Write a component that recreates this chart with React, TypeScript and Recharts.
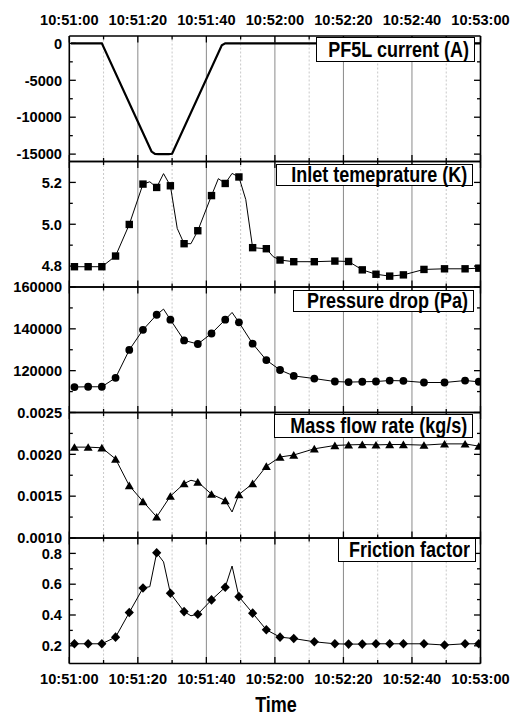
import React from 'react';
import { ComposedChart, Line, Scatter, XAxis, YAxis, ReferenceLine } from 'recharts';

// ---------- data ----------
const xTicks = [0, 10, 20, 30, 40, 50, 60, 70, 80, 90, 100, 110, 120];
const xMajorTicks = [0, 20, 40, 60, 80, 100, 120];
const timeLabels = ['10:51:00', '10:51:20', '10:51:40', '10:52:00', '10:52:20', '10:52:40', '10:53:00'];
const xMinorGrid = [10, 30, 50, 70, 90, 110];
const xMajorGrid = [20, 40, 60, 80, 100];

const markerTimes = [1.5, 5.5, 9.5, 13.5, 17.5, 21.5, 25.5, 29.5, 33.5, 37.5, 41.5, 45.5, 49.5, 53.5, 57.5, 61.5, 65.5, 71.5, 77.5, 81.5, 85.5, 89.5, 93.5, 97.5, 103.5, 109.5, 115.5, 119.5];

const currentTime = [0.5, 9.5, 24, 25, 26, 29, 30, 44.5, 45.5, 120];
const currentValue = [0, 0, -14650, -14980, -15000, -15000, -14950, -250, 0, 0];

const inletTime = [1.5, 5.5, 9.5, 13.5, 17.5, 21.5, 23.5, 25.5, 27.5, 29.5, 31.5, 33.5, 35.5, 37.5, 41.5, 43.5, 45.5, 47.5, 49.5, 51.5, 53.5, 57.5, 59.5, 61.5, 65.5, 71.5, 77.5, 81.5, 85.5, 89.5, 93.5, 97.5, 103.5, 109.5, 115.5, 119.5];
const inletValue = [4.797, 4.797, 4.797, 4.848, 4.999, 5.192, 5.203, 5.176, 5.242, 5.184, 4.98, 4.907, 4.907, 4.969, 5.137, 5.218, 5.195, 5.243, 5.226, 5.118, 4.888, 4.883, 4.845, 4.829, 4.821, 4.821, 4.824, 4.822, 4.782, 4.761, 4.752, 4.758, 4.784, 4.787, 4.787, 4.79];

const pressureTime = [1.5, 5.5, 9.5, 13.5, 17.5, 21.5, 25.5, 27.5, 29.5, 33.5, 37.5, 41.5, 45.5, 47.5, 49.5, 53.5, 57.5, 61.5, 65.5, 71.5, 77.5, 81.5, 85.5, 89.5, 93.5, 97.5, 103.5, 109.5, 115.5, 119.5];
const pressureValue = [112170, 112300, 112300, 116560, 129900, 139530, 146740, 149430, 144390, 134480, 132740, 137780, 144390, 147830, 143110, 132920, 125050, 120330, 117500, 116230, 114810, 114530, 114690, 114810, 115280, 115130, 114340, 114340, 115280, 114690];

const flowTime = [1.5, 5.5, 9.5, 13.5, 17.5, 21.5, 25.5, 29.5, 33.5, 35.5, 37.5, 41.5, 45.5, 47.5, 49.5, 53.5, 57.5, 61.5, 65.5, 71.5, 77.5, 81.5, 85.5, 89.5, 93.5, 97.5, 103.5, 109.5, 115.5, 119.5];
const flowValue = [0.002086, 0.002086, 0.002078, 0.001945, 0.001626, 0.001437, 0.001252, 0.0015, 0.00165, 0.00169, 0.00167, 0.001524, 0.001449, 0.001311, 0.00152, 0.00165, 0.001858, 0.001968, 0.001992, 0.002066, 0.002106, 0.002113, 0.002117, 0.002113, 0.002117, 0.002117, 0.00211, 0.002125, 0.002125, 0.002098];

const frictionTime = [1.5, 5.5, 9.5, 13.5, 17.5, 21.5, 23.5, 25.5, 27.5, 29.5, 33.5, 35.5, 37.5, 41.5, 45.5, 47.5, 49.5, 53.5, 57.5, 61.5, 65.5, 71.5, 77.5, 81.5, 85.5, 89.5, 93.5, 97.5, 103.5, 109.5, 115.5, 119.5];
const frictionValue = [0.213, 0.213, 0.213, 0.256, 0.416, 0.575, 0.584, 0.804, 0.745, 0.541, 0.422, 0.395, 0.405, 0.498, 0.58, 0.718, 0.519, 0.412, 0.304, 0.256, 0.247, 0.226, 0.213, 0.211, 0.211, 0.213, 0.213, 0.213, 0.213, 0.205, 0.213, 0.213];

const currentTicks = [-15000, -12500, -10000, -7500, -5000, -2500, 0];
const currentMajor = [-15000, -10000, -5000, 0];
const inletTicks = [4.8, 4.9, 5.0, 5.1, 5.2];
const inletMajor = [4.8, 5.0, 5.2];
const pressureTicks = [110000, 120000, 130000, 140000, 150000, 160000];
const pressureMajor = [120000, 140000, 160000];
const flowTicks = [0.001, 0.00125, 0.0015, 0.00175, 0.002, 0.00225, 0.0025];
const flowMajor = [0.001, 0.0015, 0.002, 0.0025];
const frictionTicks = [0.2, 0.3, 0.4, 0.5, 0.6, 0.7, 0.8];
const frictionMajor = [0.2, 0.4, 0.6, 0.8];

// ---------- layout ----------
const W = 521;
const H = 718;
const PLOT_LEFT = 69.3;
const PLOT_RIGHT = 480.5;
const PANEL_TOP = 36;
const PANEL_H = 125.5;
const AX = 1; // axis band size
const FONT = '"Liberation Sans", Arial, Helvetica, sans-serif';
const TICK_FS = 14.6;

const isIn = (arr: number[], v: number) => arr.some((m) => Math.abs(m - v) < 1e-9);

type Side = 'left' | 'right' | 'top' | 'bottom';

const makeTick = (side: Side, major: number[], label: ((v: number) => string) | null) => (props: any) => {
  const { x, y, payload } = props;
  const v = payload.value;
  const isMajor = isIn(major, v);
  const len = isMajor ? 6.5 : 3.5;
  let line: any;
  let text: any = null;
  if (side === 'left') {
    line = <line x1={x} y1={y} x2={x + len} y2={y} stroke="#000" strokeWidth={1.3} />;
    if (label && isMajor)
      text = (
        <text x={x - 7.3} y={y} dy="0.36em" textAnchor="end" fontFamily={FONT} fontWeight="bold" fontSize={TICK_FS} fill="#000">
          {label(v)}
        </text>
      );
  } else if (side === 'right') {
    line = <line x1={x} y1={y} x2={x - len} y2={y} stroke="#000" strokeWidth={1.3} />;
  } else if (side === 'top') {
    line = <line x1={x} y1={y} x2={x} y2={y + len} stroke="#000" strokeWidth={1.3} />;
    if (label && isMajor)
      text = (
        <text x={x} y={y - 11} textAnchor="middle" fontFamily={FONT} fontWeight="bold" fontSize={TICK_FS} fill="#000">
          {label(v)}
        </text>
      );
  } else {
    line = <line x1={x} y1={y} x2={x} y2={y - len} stroke="#000" strokeWidth={1.3} />;
    if (label && isMajor)
      text = (
        <text x={x} y={y + 20} textAnchor="middle" fontFamily={FONT} fontWeight="bold" fontSize={TICK_FS} fill="#000">
          {label(v)}
        </text>
      );
  }
  return (
    <g>
      {line}
      {text}
    </g>
  );
};

const timeLabel = (v: number) => timeLabels[Math.round(v / 20)] ?? '';

const Square = (p: any) => <rect x={p.cx - 3.7} y={p.cy - 3.7} width={7.4} height={7.4} fill="#000" />;
const Circle = (p: any) => <circle cx={p.cx} cy={p.cy} r={3.9} fill="#000" />;
const Triangle = (p: any) => (
  <path d={`M${p.cx},${p.cy - 4} L${p.cx + 4.5},${p.cy + 3.7} L${p.cx - 4.5},${p.cy + 3.7} Z`} fill="#000" />
);
const Diamond = (p: any) => (
  <path d={`M${p.cx},${p.cy - 4.8} L${p.cx + 4.6},${p.cy} L${p.cx},${p.cy + 4.8} L${p.cx - 4.6},${p.cy} Z`} fill="#000" />
);

type PanelProps = {
  index: number;
  time: number[];
  values: number[];
  domain: [number, number];
  ticks: number[];
  major: number[];
  fmt: (v: number) => string;
  marker: ((p: any) => any) | null;
  lineWidth: number;
  topLabels?: boolean;
  bottomLabels?: boolean;
};

function Panel(p: PanelProps) {
  const rows = p.time.map((t, i) => ({ t, v: p.values[i] }));
  const marks = rows.filter((r) => isIn(markerTimes, r.t));
  const top = PANEL_TOP + p.index * PANEL_H;
  const bottom = H - (top + PANEL_H);
  const axisLine = { stroke: '#000', strokeWidth: 1.6 };
  return (
    <div style={{ position: 'absolute', left: 0, top: 0 }}>
      <ComposedChart
        width={W}
        height={H}
        margin={{ top: top - AX, bottom: bottom - AX, left: PLOT_LEFT - AX, right: W - PLOT_RIGHT - AX }}
      >
        <XAxis
          xAxisId="b"
          type="number"
          dataKey="t"
          domain={[0, 120]}
          ticks={xTicks}
          interval={0}
          allowDataOverflow
          height={AX}
          tickSize={0}
          tickMargin={0}
          axisLine={axisLine}
          tick={makeTick('bottom', xMajorTicks, p.bottomLabels ? timeLabel : null)}
        />
        <XAxis
          xAxisId="top"
          orientation="top"
          type="number"
          dataKey="t"
          domain={[0, 120]}
          ticks={xTicks}
          interval={0}
          allowDataOverflow
          height={AX}
          tickSize={0}
          tickMargin={0}
          axisLine={axisLine}
          tick={makeTick('top', xMajorTicks, p.topLabels ? timeLabel : null)}
        />
        <YAxis
          yAxisId="l"
          type="number"
          dataKey="v"
          domain={p.domain}
          ticks={p.ticks}
          interval={0}
          allowDataOverflow
          width={AX}
          tickSize={0}
          tickMargin={0}
          axisLine={axisLine}
          tick={makeTick('left', p.major, p.fmt)}
        />
        <YAxis
          yAxisId="r"
          orientation="right"
          type="number"
          dataKey="v"
          domain={p.domain}
          ticks={p.ticks}
          interval={0}
          allowDataOverflow
          width={AX}
          tickSize={0}
          tickMargin={0}
          axisLine={axisLine}
          tick={makeTick('right', p.major, null)}
        />
        {xMinorGrid.map((x) => (
          <ReferenceLine key={'mi' + x} x={x} xAxisId="b" yAxisId="l" stroke="#c8c8c8" strokeWidth={1} strokeDasharray="2 2" />
        ))}
        {xMajorGrid.map((x) => (
          <ReferenceLine key={'ma' + x} x={x} xAxisId="b" yAxisId="l" stroke="#8a8a8a" strokeWidth={1} />
        ))}
        <Line
          xAxisId="top"
          yAxisId="r"
          data={rows}
          dataKey="v"
          stroke="none"
          dot={false}
          activeDot={false}
          isAnimationActive={false}
        />
        <Line
          xAxisId="b"
          yAxisId="l"
          data={rows}
          dataKey="v"
          type="linear"
          stroke="#000"
          strokeWidth={p.lineWidth}
          dot={false}
          activeDot={false}
          isAnimationActive={false}
        />
        {p.marker && (
          <Scatter
            xAxisId="b"
            yAxisId="l"
            data={marks}
            dataKey="v"
            shape={p.marker}
            isAnimationActive={false}
          />
        )}
      </ComposedChart>
    </div>
  );
}

const boxStyle = (left: number, top: number, width: number, height: number): React.CSSProperties => ({
  position: 'absolute',
  left,
  top,
  width,
  height,
  boxSizing: 'border-box',
  border: '1px solid #000',
  background: '#fff',
  display: 'flex',
  alignItems: 'center',
  justifyContent: 'flex-end',
  paddingRight: 5,
  fontFamily: FONT,
  fontWeight: 'bold',
  fontSize: 18,
  color: '#000',
  whiteSpace: 'nowrap',
});

const txt: React.CSSProperties = { display: 'inline-block', transform: 'scaleY(1.22)', lineHeight: 1 };

export default function App() {
  return (
    <div style={{ position: 'absolute', left: 0, top: 0, width: W, height: H, background: '#fff', overflow: 'hidden' }}>
      <Panel index={0} time={currentTime} values={currentValue} domain={[-16000, 1000]} ticks={currentTicks} major={currentMajor} fmt={(v) => String(v)} marker={null} lineWidth={2.2} topLabels />
      <Panel index={1} time={inletTime} values={inletValue} domain={[4.7, 5.3]} ticks={inletTicks} major={inletMajor} fmt={(v) => v.toFixed(1)} marker={Square} lineWidth={1} />
      <Panel index={2} time={pressureTime} values={pressureValue} domain={[100000, 160000]} ticks={pressureTicks} major={pressureMajor} fmt={(v) => String(v)} marker={Circle} lineWidth={1} />
      <Panel index={3} time={flowTime} values={flowValue} domain={[0.001, 0.0025]} ticks={flowTicks} major={flowMajor} fmt={(v) => v.toFixed(4)} marker={Triangle} lineWidth={1} />
      <Panel index={4} time={frictionTime} values={frictionValue} domain={[0.085, 0.9]} ticks={frictionTicks} major={frictionMajor} fmt={(v) => v.toFixed(1)} marker={Diamond} lineWidth={1} bottomLabels />

      <div style={boxStyle(315.7, 37.3, 159.3, 25)}><span style={txt}>PF5L current (A)</span></div>
      <div style={boxStyle(275.7, 164, 197.6, 22)}><span style={txt}>Inlet temeprature (K)</span></div>
      <div style={boxStyle(292.7, 290, 181.3, 22)}><span style={txt}>Pressure drop (Pa)</span></div>
      <div style={boxStyle(274, 414.3, 199.3, 24)}><span style={txt}>Mass flow rate (kg/s)</span></div>
      <div style={boxStyle(338.3, 538.3, 137.7, 24)}><span style={txt}>Friction factor</span></div>

      <div
        style={{
          position: 'absolute',
          left: 226,
          width: 100,
          top: 694,
          height: 22,
          textAlign: 'center',
          fontFamily: FONT,
          fontWeight: 'bold',
          fontSize: 18,
          lineHeight: '22px',
        }}
      >
        <span style={txt}>Time</span>
      </div>
    </div>
  );
}
